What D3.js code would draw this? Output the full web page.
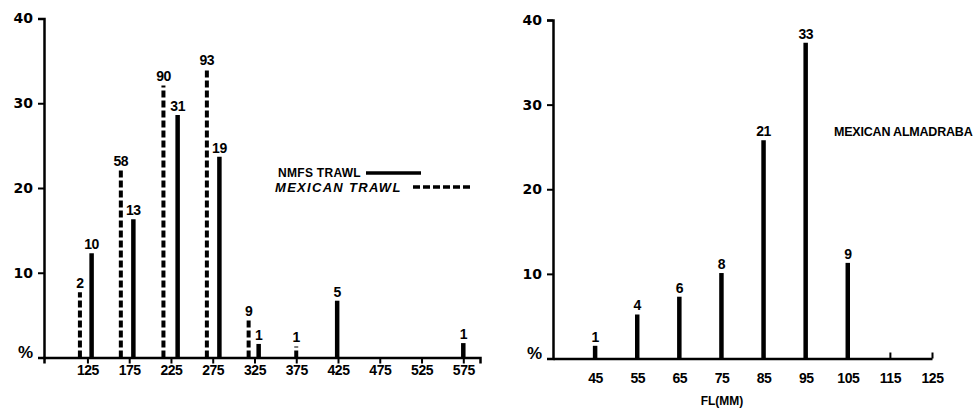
<!DOCTYPE html>
<html>
<head>
<meta charset="utf-8">
<script src="https://cdnjs.cloudflare.com/ajax/libs/d3/7.8.5/d3.min.js"></script>
<style>
    body { margin: 0; background: #fff; }
    svg text { font-family: "Liberation Sans", Arial, sans-serif; font-weight: bold; fill: #000; }
    .axis path, .axis line { stroke: #000; }
    .axis .domain { stroke-width: 2.5; }
    .axis .tick line { stroke-width: 2; }
</style>
</head>
<body>
<div id="chart"></div>
<script>

// left panel: fork length classes (mm), percent, sample size
let nmfs_fl = [130, 180, 233, 283, 330, 424, 575];
let nmfs_pct = [12.3, 16.3, 28.6, 23.7, 1.6, 6.7, 1.7];
let nmfs_n = [10, 13, 31, 19, 1, 5, 1];

let mex_trawl_fl = [116, 165, 216, 268, 318, 375];
let mex_trawl_pct = [7.7, 22.1, 32.1, 34.0, 4.4, 1.3];
let mex_trawl_n = [2, 58, 90, 93, 9, 1];

// right panel
let almadraba_fl = [45, 55, 65, 75, 85, 95, 105];
let almadraba_pct = [1.5, 5.2, 7.3, 10.1, 25.8, 37.3, 11.3];
let almadraba_n = [1, 4, 6, 8, 21, 33, 9];

let left_x_ticks = [125, 175, 225, 275, 325, 375, 425, 475, 525, 575];
let right_x_ticks = [45, 55, 65, 75, 85, 95, 105, 115, 125];
let y_ticks = [10, 20, 30, 40];

let svg = d3.select("#chart")
            .append("svg")
            .attr("width", 976)
            .attr("height", 408);

function draw_y_axis(y_scale, x_pos) {
    let g = svg.append("g")
        .attr("class", "y axis")
        .attr("transform", "translate(" + x_pos + ",0)");
    g.call(d3.axisLeft(y_scale).tickValues(y_ticks).tickSizeOuter(0).tickSize(6).tickPadding(5));
    g.select(".domain").attr("stroke-width", 2);
    g.selectAll(".tick text")
        .style("font-family", "'DejaVu Sans', sans-serif")
        .style("font-size", "14px")
        .style("font-weight", "bold");
    g.append("text")
        .attr("x", -11)
        .attr("y", y_scale(0) - 5)
        .attr("dy", "0.35em")
        .attr("text-anchor", "end")
        .style("font-size", "17px")
        .text("%");
    return g;
}

function draw_bars(x_scale, y_scale, fl, pct, n, dashed, width) {
    let data = fl.map((d, i) => ({ fl: d, pct: pct[i], n: n[i] }));
    svg.append("g")
        .selectAll("line")
        .data(data)
        .enter()
        .append("line")
        .attr("x1", d => x_scale(d.fl))
        .attr("x2", d => x_scale(d.fl))
        .attr("y1", y_scale(0))
        .attr("y2", d => y_scale(d.pct))
        .attr("stroke", "#000")
        .attr("stroke-width", width)
        .attr("stroke-dasharray", dashed ? "7,3" : null);

    svg.append("g")
        .selectAll("text")
        .data(data)
        .enter()
        .append("text")
        .attr("x", d => x_scale(d.fl))
        .attr("y", d => y_scale(d.pct) - 4)
        .attr("text-anchor", "middle")
        .style("font-size", "14px")
        .style("letter-spacing", "-0.5px")
        .text(d => d.n);
}

// ---- left panel ----
let left_x = d3.scaleLinear().domain([73, 595]).range([44, 480]);
let left_y = d3.scaleLinear().domain([0, 40]).range([357.5, 18.5]);

draw_y_axis(left_y, 44);

let left_x_axis = svg.append("g")
    .attr("class", "x axis")
    .attr("transform", "translate(0," + left_y(0) + ")");
left_x_axis.call(d3.axisBottom(left_x).tickValues(left_x_ticks).tickSizeOuter(0).tickSize(6).tickPadding(2));
left_x_axis.selectAll(".tick text")
    .style("font-size", "14px")
    .style("letter-spacing", "-0.5px");

draw_bars(left_x, left_y, mex_trawl_fl, mex_trawl_pct, mex_trawl_n, true, 4);
draw_bars(left_x, left_y, nmfs_fl, nmfs_pct, nmfs_n, false, 4.5);

// legend
svg.append("text")
    .attr("x", 278).attr("y", 173).attr("dy", "0.35em")
    .style("font-size", "12px")
    .style("letter-spacing", "0.3px")
    .text("NMFS TRAWL");
svg.append("line")
    .attr("x1", 366).attr("x2", 421).attr("y1", 173).attr("y2", 173)
    .attr("stroke", "#000").attr("stroke-width", 3.5);
svg.append("text")
    .attr("x", 275).attr("y", 187).attr("dy", "0.35em")
    .style("font-size", "13px")
    .style("font-style", "italic")
    .style("letter-spacing", "1.3px")
    .text("MEXICAN TRAWL");
svg.append("line")
    .attr("x1", 413).attr("x2", 473).attr("y1", 187).attr("y2", 187)
    .attr("stroke", "#000").attr("stroke-width", 3.5)
    .attr("stroke-dasharray", "7,3");

// ---- right panel ----
let right_x = d3.scaleLinear().domain([35, 125]).range([553, 932]);
let right_y = d3.scaleLinear().domain([0, 40]).range([358.5, 20]);

draw_y_axis(right_y, 553);

let right_x_axis = svg.append("g")
    .attr("class", "x axis")
    .attr("transform", "translate(0," + right_y(0) + ")");
right_x_axis.call(d3.axisBottom(right_x).tickValues(right_x_ticks).tickSizeOuter(0).tickSizeInner(-6).tickPadding(15));
right_x_axis.selectAll(".tick text")
    .style("font-size", "14px")
    .style("letter-spacing", "-0.5px");

draw_bars(right_x, right_y, almadraba_fl, almadraba_pct, almadraba_n, false, 4.5);

svg.append("text")
    .attr("x", 834).attr("y", 132).attr("dy", "0.35em")
    .style("font-size", "12.5px")
    .style("letter-spacing", "-0.2px")
    .text("MEXICAN ALMADRABA");

svg.append("text")
    .attr("x", 722).attr("y", 401).attr("dy", "0.35em")
    .attr("text-anchor", "middle")
    .style("font-size", "12px")
    .text("FL(MM)");

</script>
</body>
</html>
